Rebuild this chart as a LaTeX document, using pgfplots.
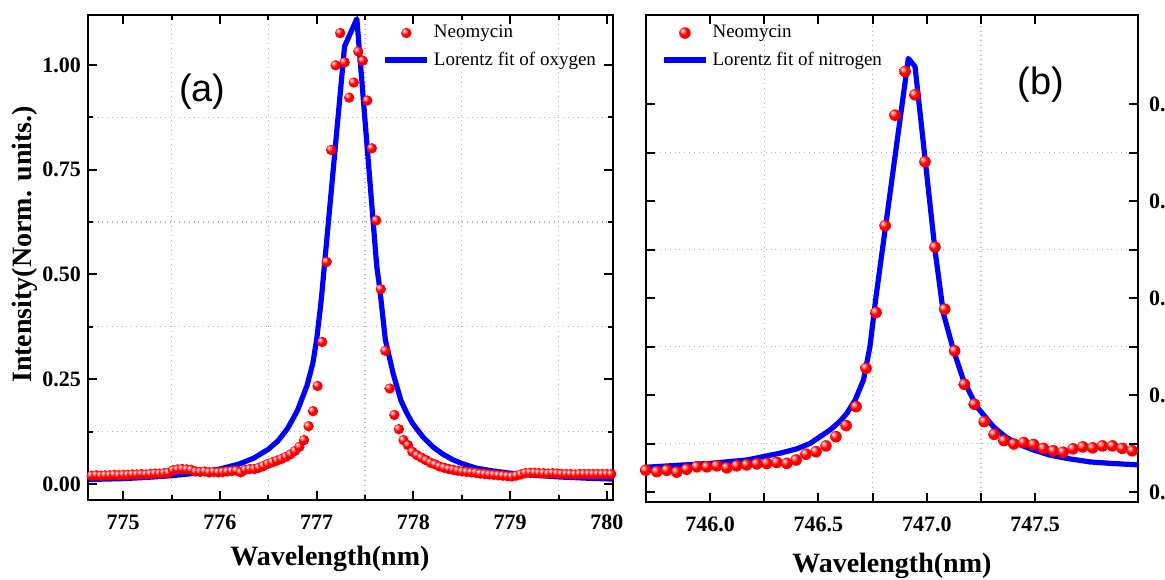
\documentclass[border=0pt]{standalone}
\usepackage{fontspec}
\setmainfont{Liberation Serif}
\newfontfamily\sansf{Liberation Sans}
\usepackage{pgfplots}
\pgfplotsset{compat=1.18}
\pgfdeclareradialshading{redball}{\pgfqpoint{-12bp}{12bp}}{%
  color(0bp)=(white);
  color(5bp)=(red!35!white);
  color(16bp)=(red);
  color(40bp)=(red!92!black);
  color(60bp)=(red!75!black)}
\pgfdeclareplotmark{redball}{%
  \pgfpathcircle{\pgfpointorigin}{\pgfplotmarksize}%
  \pgfshadepath{redball}{0}%
  \pgfusepath{discard}}
\pgfplotsset{
  mystyle/.style={
    scale only axis,
    axis line style={line width=1pt},
    tick style={line width=1pt, black},
    major tick length=4.5pt,
    minor tick length=2.5pt,
    tick align=inside,
    xtick pos=both, ytick pos=both,
    minor tick num=1,
    xmajorgrids=false, ymajorgrids=false,
    xminorgrids=true, yminorgrids=true,
    minor grid style={dotted, gray!60, line width=0.6pt},
    tick label style={font=\fontsize{11}{13}\selectfont\bfseries},
    xticklabel shift=4pt,
    /pgf/number format/assume math mode=true,
    scaled ticks=false,
    label style={font=\fontsize{14}{16}\selectfont\bfseries},
    legend cell align=left,
    legend style={draw=none, fill=none, font=\fontsize{9.5}{11}\selectfont, inner sep=0pt, row sep=1.5pt},
  },
  markleg/.style={legend image code/.code={\draw[mark repeat=2, mark phase=2, ##1] plot coordinates {(0pt,0pt) (10.5pt,0pt) (21pt,0pt)};}},
  lineleg/.style={legend image code/.code={\draw[##1] (0pt,0pt) -- (21pt,0pt);}},
}
\begin{document}
\begin{tikzpicture}
% ---------------- panel (a) ----------------
\begin{axis}[mystyle,
  at={(44pt,39.5pt)}, anchor=south west,
  width=262.35pt, height=242.5pt,
  xmin=774.636, xmax=780.06, ymin=-0.038, ymax=1.119,
  xtick={775,776,777,778,779,780},
  ytick={0,0.25,0.5,0.75,1},
  yticklabel style={/pgf/number format/fixed, /pgf/number format/fixed zerofill, /pgf/number format/precision=2},
  xlabel={Wavelength(nm)}, ylabel={Intensity(Norm. units.)},
  xlabel style={at={(ticklabel cs:0.461)}},
  ylabel style={at={(ticklabel cs:0.527)}},
  xlabel shift=1pt, ylabel shift=-4.5pt,
  legend style={at={(0.561,0.988)}, anchor=north west},
]
\addplot[only marks, mark=redball, mark size=2.6pt, markleg] coordinates {
(774.674,0.020)(774.721,0.021)(774.768,0.020)(774.814,0.021)(774.861,0.021)(774.908,0.022)(774.954,0.021)(775.001,0.022)
(775.048,0.022)(775.094,0.023)(775.141,0.023)(775.188,0.024)(775.235,0.023)(775.281,0.024)(775.328,0.025)(775.375,0.025)
(775.421,0.026)(775.468,0.027)(775.515,0.033)(775.561,0.035)(775.608,0.036)(775.655,0.035)(775.702,0.034)(775.748,0.030)
(775.795,0.029)(775.842,0.030)(775.888,0.028)(775.935,0.029)(775.982,0.028)(776.029,0.029)(776.075,0.030)(776.122,0.031)
(776.169,0.032)(776.215,0.028)(776.262,0.034)(776.309,0.036)(776.355,0.036)(776.402,0.039)(776.449,0.043)(776.496,0.048)
(776.542,0.052)(776.589,0.056)(776.636,0.060)(776.682,0.065)(776.729,0.071)(776.776,0.079)(776.822,0.089)(776.869,0.105)
(776.916,0.138)(776.962,0.174)(777.009,0.234)(777.056,0.339)(777.103,0.530)(777.149,0.797)(777.196,0.999)(777.243,1.076)
(777.289,1.006)(777.336,0.922)(777.383,0.958)(777.430,1.032)(777.476,1.010)(777.523,0.915)(777.570,0.801)(777.616,0.629)
(777.663,0.465)(777.710,0.318)(777.756,0.228)(777.803,0.165)(777.850,0.131)(777.897,0.105)(777.943,0.093)(777.990,0.077)
(778.037,0.069)(778.083,0.063)(778.130,0.057)(778.177,0.051)(778.223,0.047)(778.270,0.042)(778.317,0.039)(778.364,0.036)
(778.410,0.034)(778.457,0.032)(778.504,0.030)(778.550,0.029)(778.597,0.028)(778.644,0.027)(778.690,0.025)(778.737,0.024)
(778.784,0.023)(778.830,0.022)(778.877,0.021)(778.924,0.020)(778.971,0.019)(779.017,0.018)(779.064,0.020)(779.111,0.023)
(779.157,0.026)(779.204,0.027)(779.251,0.027)(779.297,0.026)(779.344,0.026)(779.391,0.025)(779.438,0.026)(779.484,0.025)
(779.531,0.024)(779.578,0.024)(779.624,0.024)(779.671,0.023)(779.718,0.024)(779.764,0.024)(779.811,0.024)(779.858,0.024)
(779.904,0.024)(779.951,0.024)(779.998,0.024)(780.045,0.024)
};
\addlegendentry{Neomycin}
\addplot[color={rgb,255:red,0;green,0;blue,255}, line width=2.6pt, lineleg, line join=round] coordinates {
(774.636,0.011)(775.0,0.013)(775.25,0.016)(775.5,0.020)(775.75,0.026)(776.0,0.036)(776.2,0.048)(776.35,0.062)
(776.5,0.083)(776.6,0.103)(776.7,0.133)(776.8,0.175)(776.9,0.235)(776.96,0.288)(777.0,0.345)(777.047,0.439)
(777.288,1.044)(777.415,1.110)(777.621,0.519)(777.65,0.470)(777.71,0.344)(777.79,0.264)(777.87,0.200)(777.93,0.170)
(777.99,0.145)(778.1,0.112)(778.2,0.089)(778.3,0.072)(778.4,0.059)(778.5,0.049)(778.65,0.038)(778.8,0.032)
(779.0,0.026)(779.25,0.021)(779.51,0.017)(779.8,0.014)(780.06,0.012)
};
\addlegendentry{Lorentz fit of oxygen}
\node[font=\sansf\fontsize{19}{22}\selectfont] at (rel axis cs:0.218,0.841) {(a)};
\end{axis}
% ---------------- panel (b) ----------------
\begin{axis}[mystyle,
  at={(322.85pt,38.65pt)}, anchor=south west,
  width=246.15pt, height=243.35pt,
  minor tick length=4.5pt,
  xmin=745.703, xmax=747.975, ymin=-0.020, ymax=0.9835,
  xtick={746,746.5,747,747.5},
  ytick={0,0.2,0.4,0.6,0.8},
  yticklabel pos=right,
  yticklabel shift=2pt,
  xticklabel style={/pgf/number format/fixed, /pgf/number format/fixed zerofill, /pgf/number format/precision=1},
  yticklabel style={/pgf/number format/fixed, /pgf/number format/fixed zerofill, /pgf/number format/precision=1},
  xlabel={Wavelength(nm)},
  xlabel shift=4pt,
  legend style={at={(0.031,0.988)}, anchor=north west},
]
\addplot[only marks, mark=redball, mark size=2.9pt, markleg] coordinates {
(745.703,0.045)(745.754,0.042)(745.800,0.045)(745.846,0.041)(745.892,0.047)(745.939,0.052)(745.985,0.052)(746.031,0.054)
(746.077,0.050)(746.123,0.054)(746.169,0.056)(746.216,0.058)(746.262,0.059)(746.308,0.061)(746.354,0.059)(746.397,0.066)
(746.443,0.078)(746.489,0.083)(746.535,0.095)(746.581,0.114)(746.628,0.137)(746.674,0.176)(746.720,0.255)(746.766,0.370)
(746.808,0.549)(746.854,0.777)(746.900,0.867)(746.946,0.819)(746.992,0.681)(747.038,0.505)(747.083,0.377)(747.129,0.291)
(747.174,0.222)(747.220,0.181)(747.265,0.145)(747.311,0.119)(747.356,0.106)(747.402,0.099)(747.447,0.102)(747.493,0.098)
(747.538,0.090)(747.584,0.085)(747.629,0.082)(747.675,0.089)(747.720,0.093)(747.766,0.091)(747.811,0.095)(747.857,0.095)
(747.902,0.090)(747.948,0.085)
};
\addlegendentry{Neomycin}
\addplot[color={rgb,255:red,0;green,0;blue,255}, line width=2.6pt, lineleg, line join=round] coordinates {
(745.703,0.051)(745.85,0.055)(746.0,0.059)(746.169,0.066)(746.323,0.080)(746.4,0.089)(746.461,0.100)(746.554,0.128)
(746.6,0.146)(746.631,0.162)(746.67,0.190)(746.708,0.231)(746.738,0.300)(746.766,0.403)(746.915,0.894)(746.946,0.877)
(747.038,0.499)(747.077,0.368)(747.123,0.293)(747.169,0.231)(747.231,0.176)(747.307,0.135)(747.36,0.115)(747.415,0.100)
(747.49,0.087)(747.569,0.076)(747.65,0.069)(747.754,0.062)(747.85,0.059)(747.975,0.056)
};
\addlegendentry{Lorentz fit of nitrogen}
\node[font=\sansf\fontsize{19}{22}\selectfont] at (rel axis cs:0.803,0.856) {(b)};
\end{axis}
\pgfresetboundingbox
\useasboundingbox (0pt,0pt) rectangle (582.5pt,289.5pt);
\end{tikzpicture}
\end{document}
